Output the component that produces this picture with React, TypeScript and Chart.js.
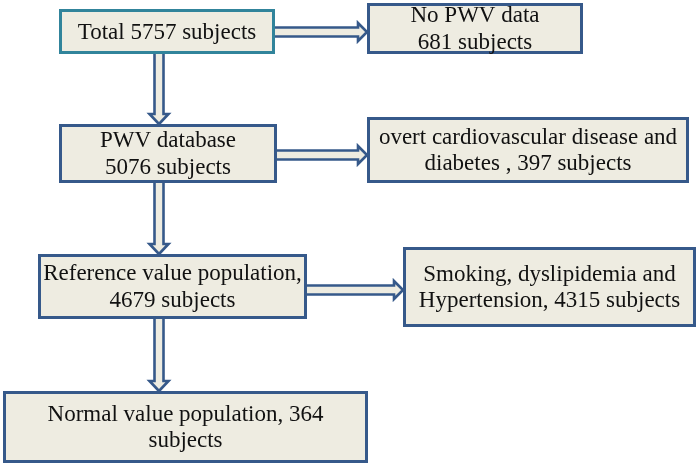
import React, { useEffect, useRef } from "react";
import { Chart, registerables } from "chart.js";

Chart.register(...registerables);

// ---- content (data) ----
const boxNames = ["total", "noPwv", "pwvDb", "cvd", "reference", "risk", "normal"];
const subjectCounts = [5757, 681, 5076, 397, 4679, 4315, 364];
const boxLines: string[][] = [
  ["Total 5757 subjects"],
  ["No PWV data", "681 subjects"],
  ["PWV database", "5076 subjects"],
  ["overt cardiovascular disease and", "diabetes , 397 subjects"],
  ["Reference value population,", "4679 subjects"],
  ["Smoking, dyslipidemia and", "Hypertension, 4315 subjects"],
  ["Normal value population, 364", "subjects"],
];
// arrows: [from box index, to box index, direction]
const arrowFrom = [0, 2, 4, 0, 2, 4];
const arrowTo = [2, 4, 6, 1, 3, 5];
const arrowDir = ["down", "down", "down", "right", "right", "right"];

// ---- layout (scale units, separate from data) ----
const boxLeft = [59, 367, 59, 367, 38, 403, 3];
const boxRight = [275, 583, 277, 689, 307, 696, 368];
const boxTop = [9, 3, 124, 117, 254, 247, 391];
const boxBottom = [54, 54, 183, 183, 319, 327, 463];
const verticalArrowX = 159;
const horizontalArrowY = [32, 155, 290];

const FILL = "#eeece1";
const BLUE = "#36598a";
const TEAL = "#31849b";

const flowPlugin = {
  id: "flowchart",
  afterDatasetsDraw(chart: any) {
    const { ctx, scales } = chart;
    const px = (v: number) => scales.x.getPixelForValue(v);
    const py = (v: number) => scales.y.getPixelForValue(v);
    ctx.save();
    // arrows first
    let hIdx = 0;
    for (let i = 0; i < arrowFrom.length; i++) {
      const f = arrowFrom[i];
      const t = arrowTo[i];
      ctx.beginPath();
      if (arrowDir[i] === "down") {
        const x = px(verticalArrowX);
        const y0 = py(boxBottom[f]);
        const y1 = py(boxTop[t]);
        const hw = 4.5, HW = 9.5, hl = 10;
        ctx.moveTo(x - hw, y0);
        ctx.lineTo(x - hw, y1 - hl);
        ctx.lineTo(x - HW, y1 - hl);
        ctx.lineTo(x, y1);
        ctx.lineTo(x + HW, y1 - hl);
        ctx.lineTo(x + hw, y1 - hl);
        ctx.lineTo(x + hw, y0);
      } else {
        const y = py(horizontalArrowY[hIdx++]);
        const x0 = px(boxRight[f]);
        const x1 = px(boxLeft[t]);
        const hw = 4.5, HW = 9, hl = 9;
        ctx.moveTo(x0, y - hw);
        ctx.lineTo(x1 - hl, y - hw);
        ctx.lineTo(x1 - hl, y - HW);
        ctx.lineTo(x1, y);
        ctx.lineTo(x1 - hl, y + HW);
        ctx.lineTo(x1 - hl, y + hw);
        ctx.lineTo(x0, y + hw);
      }
      ctx.fillStyle = FILL;
      ctx.fill();
      ctx.strokeStyle = BLUE;
      ctx.lineWidth = 2.6;
      ctx.lineJoin = "miter";
      ctx.stroke();
    }
    // boxes
    for (let i = 0; i < boxNames.length; i++) {
      const x0 = px(boxLeft[i]);
      const x1 = px(boxRight[i]);
      const y0 = py(boxTop[i]);
      const y1 = py(boxBottom[i]);
      ctx.fillStyle = FILL;
      ctx.fillRect(x0, y0, x1 - x0, y1 - y0);
      ctx.strokeStyle = i === 0 ? TEAL : BLUE;
      ctx.lineWidth = 3;
      ctx.strokeRect(x0 + 1.5, y0 + 1.5, x1 - x0 - 3, y1 - y0 - 3);
      const lines = boxLines[i];
      const lh = 26.5;
      const cx = (x0 + x1) / 2;
      const cy = (y0 + y1) / 2;
      ctx.fillStyle = "#111111";
      ctx.font = "23px 'Liberation Serif', 'Times New Roman', serif";
      ctx.textAlign = "center";
      ctx.textBaseline = "middle";
      lines.forEach((ln, k) => {
        const yy = cy + (k - (lines.length - 1) / 2) * lh + 1;
        ctx.fillText(ln, cx, yy);
      });
    }
    ctx.restore();
  },
};

export default function App() {
  const ref = useRef<HTMLCanvasElement | null>(null);
  useEffect(() => {
    document.body.style.margin = "0";
    if (!ref.current) return;
    const centers = boxNames.map((_, i) => ({
      x: (boxLeft[i] + boxRight[i]) / 2,
      y: (boxTop[i] + boxBottom[i]) / 2,
      n: subjectCounts[i],
    }));
    const chart = new Chart(ref.current, {
      type: "scatter",
      data: {
        datasets: [
          {
            label: "Subjects",
            data: centers as any,
            pointRadius: 0,
            pointHoverRadius: 0,
          },
        ],
      },
      options: {
        responsive: false,
        animation: false,
        events: [],
        layout: { padding: 0 },
        plugins: { legend: { display: false }, tooltip: { enabled: false } },
        scales: {
          x: { type: "linear", min: 0, max: 699, display: false },
          y: { type: "linear", min: 0, max: 466, reverse: true, display: false },
        },
      },
      plugins: [flowPlugin],
    });
    return () => chart.destroy();
  }, []);
  return (
    <div style={{ width: 699, height: 466, background: "#ffffff" }}>
      <canvas ref={ref} width={699} height={466} style={{ display: "block" }} />
    </div>
  );
}
